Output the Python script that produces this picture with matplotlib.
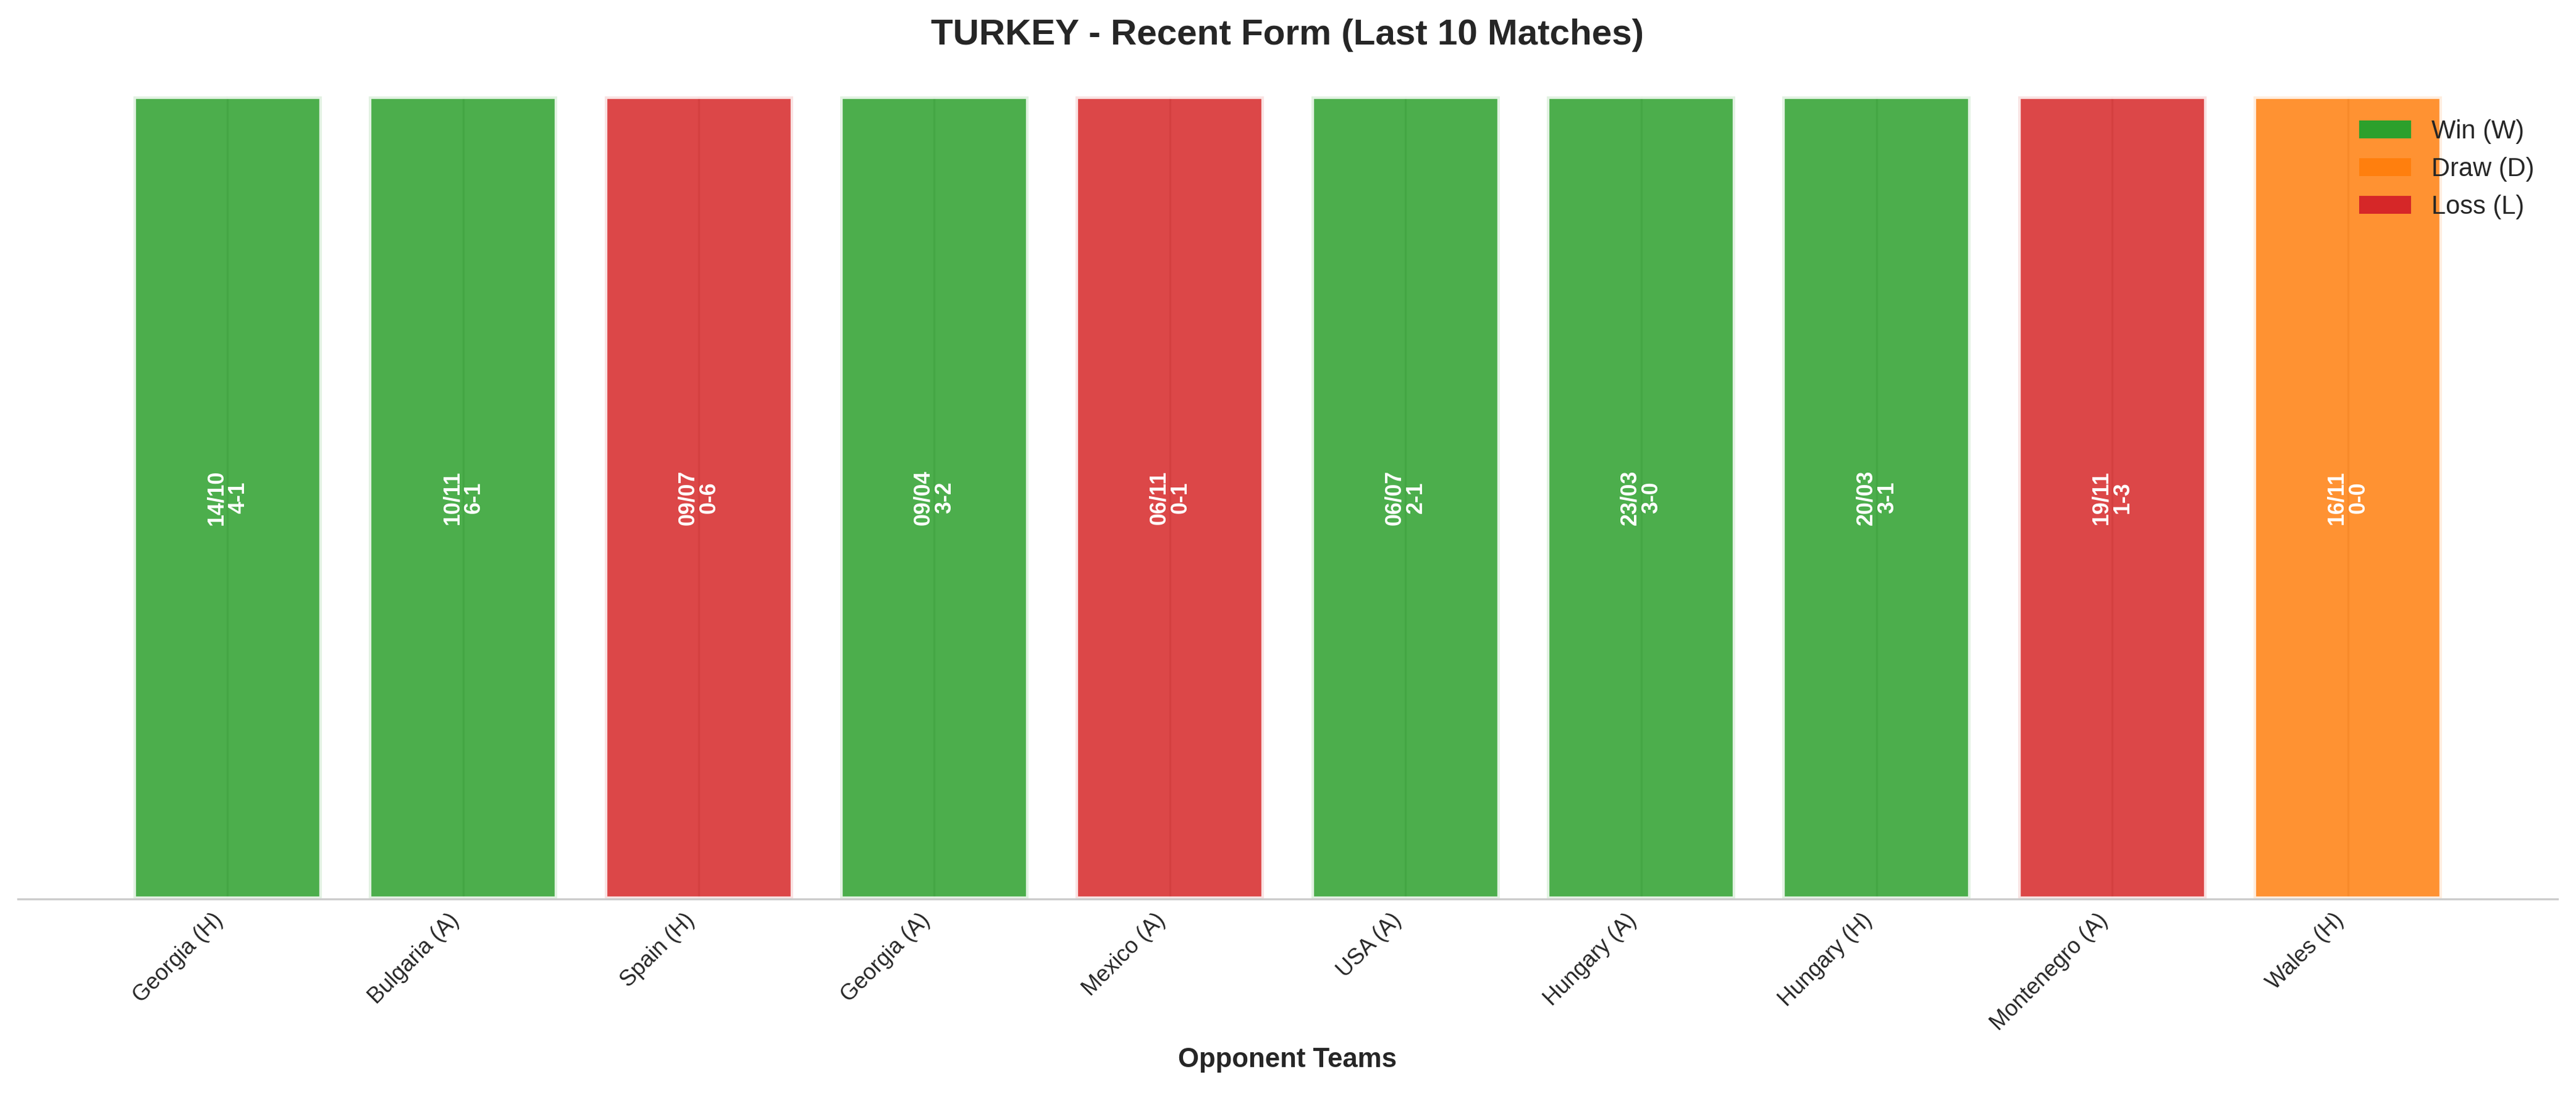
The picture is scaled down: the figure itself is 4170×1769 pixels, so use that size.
import matplotlib
matplotlib.use("Agg")
import matplotlib.pyplot as plt
from matplotlib.patches import Patch

# ---- data ----
opponents = ["Georgia (H)", "Bulgaria (A)", "Spain (H)", "Georgia (A)", "Mexico (A)",
             "USA (A)", "Hungary (A)", "Hungary (H)", "Montenegro (A)", "Wales (H)"]
results = ["W", "W", "L", "W", "L", "W", "W", "W", "L", "D"]
dates = ["14/10", "10/11", "09/07", "09/04", "06/11", "06/07", "23/03", "20/03", "19/11", "16/11"]
scores = ["4-1", "6-1", "0-6", "3-2", "0-1", "2-1", "3-0", "3-1", "1-3", "0-0"]
heights = [1, 1, 1, 1, 1, 1, 1, 1, 1, 1]

result_colors = {"W": "#2ca02c", "D": "#ff7f0e", "L": "#d62728"}
legend_labels = [("W", "Win (W)"), ("D", "Draw (D)"), ("L", "Loss (L)")]

plt.rcParams["font.family"] = ["Liberation Sans", "DejaVu Sans"]
TXT = "#262626"

fig = plt.figure(figsize=(13.9, 1769 / 300), dpi=300)
ax = fig.add_axes([0.006954, 0.17750, 0.98585, 0.73448])
ax.set_axisbelow(True)

x = list(range(len(opponents)))
bar_colors = [result_colors[r] for r in results]
ax.bar(x, heights, width=0.8, color=bar_colors, alpha=0.85,
       edgecolor="white", linewidth=2)

for xi, h, d, s in zip(x, heights, dates, scores):
    ax.text(xi, h / 2, f"{d}\n{s}", rotation=90, ha="center", va="center",
            color="white", fontsize=8.6, fontweight="bold", linespacing=1.0)

ax.set_ylim(0, 1)
ax.set_yticks([])
ax.set_xticks(x)
ax.set_xticklabels(opponents, rotation=45, ha="right", fontsize=8.7, color=TXT)
ax.tick_params(axis="x", length=0, pad=4)

ax.grid(axis="x", color="#cccccc", linewidth=0.8)
ax.grid(axis="y", visible=False)

for sp in ["left", "top", "right"]:
    ax.spines[sp].set_visible(False)
ax.spines["bottom"].set_color("#cccccc")
ax.spines["bottom"].set_linewidth(0.8)

ax.set_xlabel("Opponent Teams", fontsize=10.5, fontweight="bold", color=TXT, labelpad=5)
ax.set_title("TURKEY - Recent Form (Last 10 Matches)", fontsize=14,
             fontweight="bold", color=TXT, pad=20)

handles = [Patch(facecolor=result_colors[k], label=lab) for k, lab in legend_labels]
leg = ax.legend(handles=handles, loc="upper right", frameon=False, fontsize=10)
for t in leg.get_texts():
    t.set_color(TXT)

fig.savefig("out.png", dpi=300)
